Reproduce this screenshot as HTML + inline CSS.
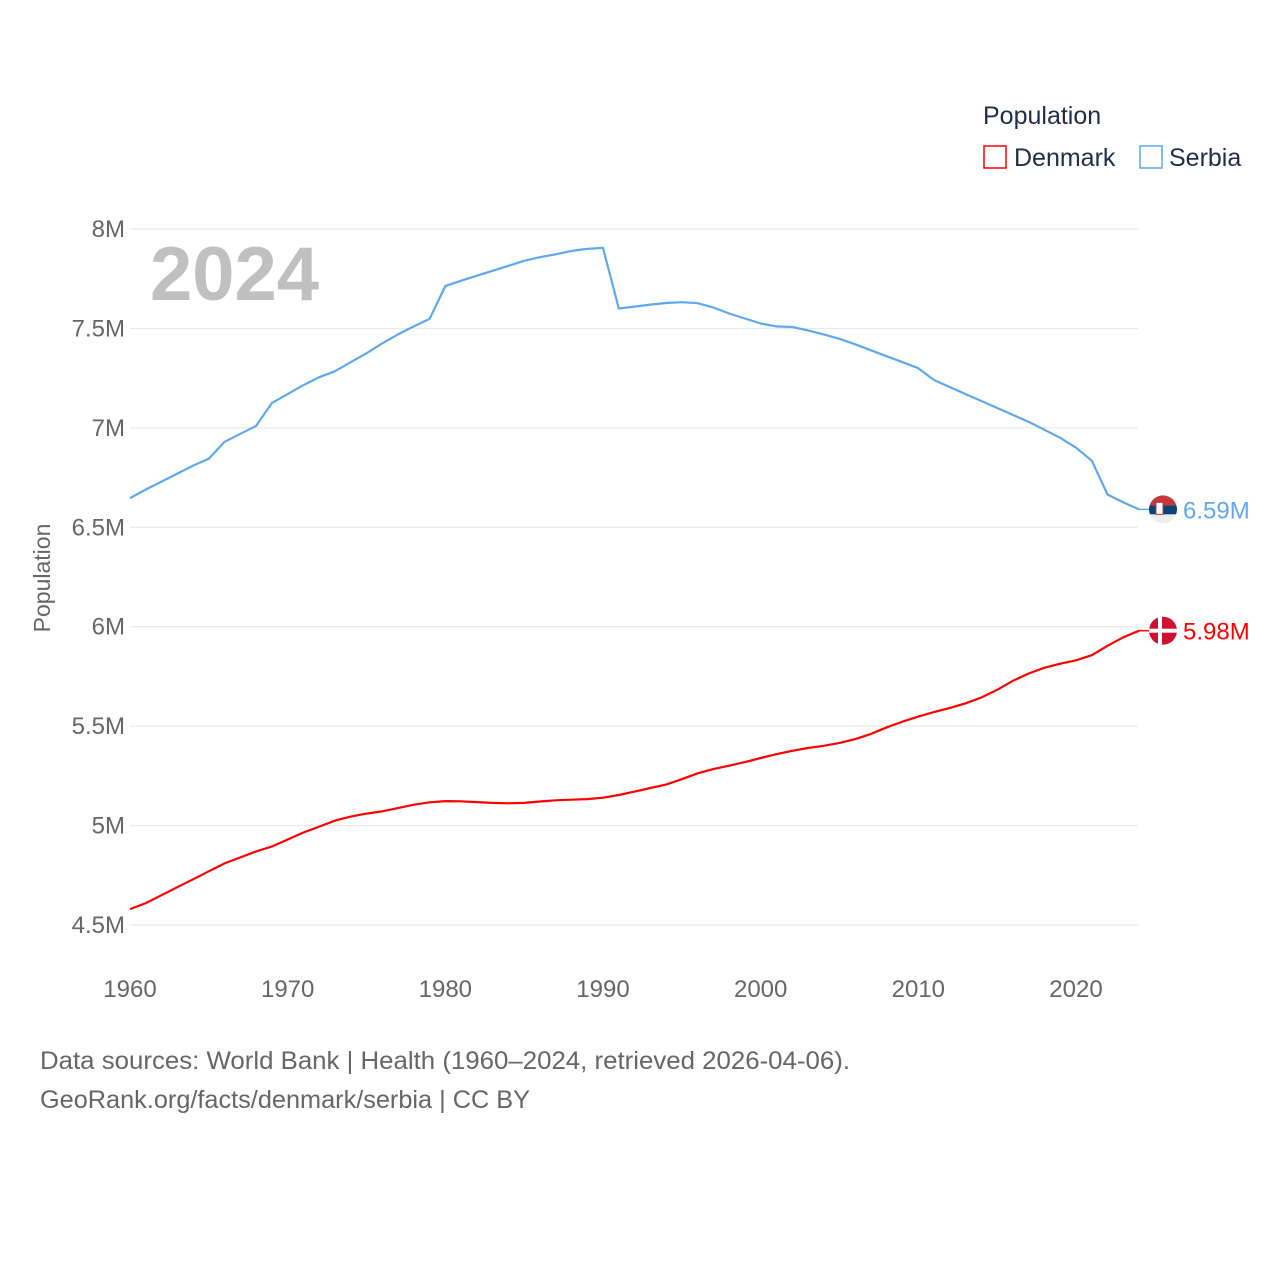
<!DOCTYPE html>
<html><head><meta charset="utf-8"><style>
body{margin:0;background:#fff;}
svg{display:block;font-family:"Liberation Sans",sans-serif;}
</style></head><body>
<svg id="chart" width="1280" height="1280" viewBox="0 0 1280 1280">
<rect width="1280" height="1280" fill="#fff"/>
<text x="983" y="124" font-size="25" fill="#1f2d4d">Population</text>
<g><rect x="984" y="146" width="22" height="22" fill="none" stroke="#f00" stroke-width="1.5"/><text x="1014" y="166" font-size="25" fill="#1f2d4d">Denmark</text></g>
<g><rect x="1140" y="146" width="22" height="22" fill="none" stroke="#5ea9ee" stroke-width="1.5"/><text x="1169" y="166" font-size="25" fill="#1f2d4d">Serbia</text></g>
<text x="150" y="300" font-size="76" font-weight="bold" fill="#c0c0c0">2024</text>
<text transform="translate(50,578) rotate(-90)" text-anchor="middle" font-size="23" fill="#666">Population</text>
<g id="grid"></g><g id="series"></g>
<text x="40" y="1069" font-size="25" fill="#666" textLength="810" lengthAdjust="spacingAndGlyphs">Data sources: World Bank | Health (1960–2024, retrieved 2026-04-06).</text>
<text x="40" y="1108" font-size="25" fill="#666" textLength="490" lengthAdjust="spacingAndGlyphs">GeoRank.org/facts/denmark/serbia | CC BY</text>
</svg>
<script>
const years=[];for(let y=1960;y<=2024;y++)years.push(y);
const serbia=[6.647,6.69,6.73,6.77,6.81,6.845,6.93,6.97,7.01,7.125,7.17,7.215,7.255,7.285,7.33,7.375,7.425,7.47,7.51,7.548,7.713,7.74,7.765,7.79,7.815,7.84,7.858,7.873,7.89,7.9,7.905,7.60,7.61,7.62,7.628,7.632,7.627,7.605,7.575,7.55,7.525,7.51,7.507,7.49,7.47,7.448,7.42,7.39,7.36,7.33,7.30,7.24,7.205,7.17,7.135,7.10,7.065,7.03,6.99,6.95,6.90,6.835,6.665,6.625,6.59];
const denmark=[4.58,4.61,4.65,4.69,4.73,4.77,4.81,4.84,4.87,4.895,4.93,4.965,4.995,5.025,5.045,5.06,5.072,5.088,5.105,5.117,5.123,5.122,5.118,5.114,5.112,5.114,5.121,5.127,5.13,5.133,5.14,5.154,5.171,5.189,5.206,5.233,5.263,5.284,5.301,5.319,5.34,5.359,5.376,5.39,5.401,5.416,5.435,5.461,5.494,5.523,5.548,5.571,5.592,5.615,5.644,5.683,5.728,5.765,5.794,5.814,5.831,5.857,5.904,5.947,5.98];
const yTicks=[4.5,5,5.5,6,6.5,7,7.5,8];
const yTickLabels=["4.5M","5M","5.5M","6M","6.5M","7M","7.5M","8M"];
const xTicks=[1960,1970,1980,1990,2000,2010,2020];
const X=y=>130+(y-1960)*946/60;
const Y=v=>229+(8-v)*198.86;
const NS="http://www.w3.org/2000/svg";
function mk(t,a,p){const e=document.createElementNS(NS,t);for(const k in a)e.setAttribute(k,a[k]);p.appendChild(e);return e;}
const g=document.getElementById('grid'),s=document.getElementById('series');
yTicks.forEach((v,i)=>{
 const l=mk('line',{x1:130,x2:1138,y1:Y(v),y2:Y(v),stroke:'#e6e6e6','stroke-width':1},g);
 
 
 const t=mk('text',{x:125,y:Y(v)+8,'text-anchor':'end','font-size':24,fill:'#666'},g);
 t.textContent=yTickLabels[i];
 
 
});
xTicks.forEach(v=>{
 const t=mk('text',{x:X(v),y:997,'text-anchor':'middle','font-size':24,fill:'#666'},g);
 t.textContent=v;
 
 
});
function line(data,color,name){
 const d=data.map((v,i)=>(i?'L':'M')+X(years[i]).toFixed(1)+','+Y(v).toFixed(1)).join('');
 const p=mk('path',{d:d,fill:'none',stroke:color,'stroke-width':2.2,'stroke-linejoin':'round'},s);
 
 
 const lv=data[data.length-1],ly=Y(lv),lx=X(years[years.length-1]);
 mk('line',{x1:lx,x2:1150,y1:ly,y2:ly,stroke:color,'stroke-width':1.5},s);
 const fg=mk('g',{},s);
 
 
 const cx=1163;
 if(name==='serbia'){
  mk('clipPath',{id:'cs'},fg).appendChild(document.createElementNS(NS,'circle'));
  const c=fg.querySelector('#cs circle');c.setAttribute('cx',cx);c.setAttribute('cy',ly);c.setAttribute('r',14);
  const gg=mk('g',{'clip-path':'url(#cs)'},fg);
  mk('rect',{x:cx-14,y:ly-14,width:28,height:10,fill:'#c6363c'},gg);
  mk('rect',{x:cx-14,y:ly-4,width:28,height:9,fill:'#0c4076'},gg);
  mk('rect',{x:cx-14,y:ly+5,width:28,height:10,fill:'#eee'},gg);
  mk('rect',{x:cx-7,y:ly-7,width:7,height:12,fill:'#fff',stroke:'#c6363c'},gg);
 }else{
  mk('circle',{cx:cx,cy:ly,r:14,fill:'#d0102e'},fg);
  mk('rect',{x:cx-14,y:ly-2,width:28,height:4,fill:'#fff'},fg);
  mk('rect',{x:cx-5,y:ly-14,width:4,height:28,fill:'#fff'},fg);
 }
 const t=mk('text',{x:1183,y:ly+9,'font-size':24,fill:color},s);
 t.textContent=lv.toFixed(2)+'M';
 
 
}
line(serbia,'#5ea9ee','serbia');
line(denmark,'#ff0000','denmark');
</script>
</body></html>
